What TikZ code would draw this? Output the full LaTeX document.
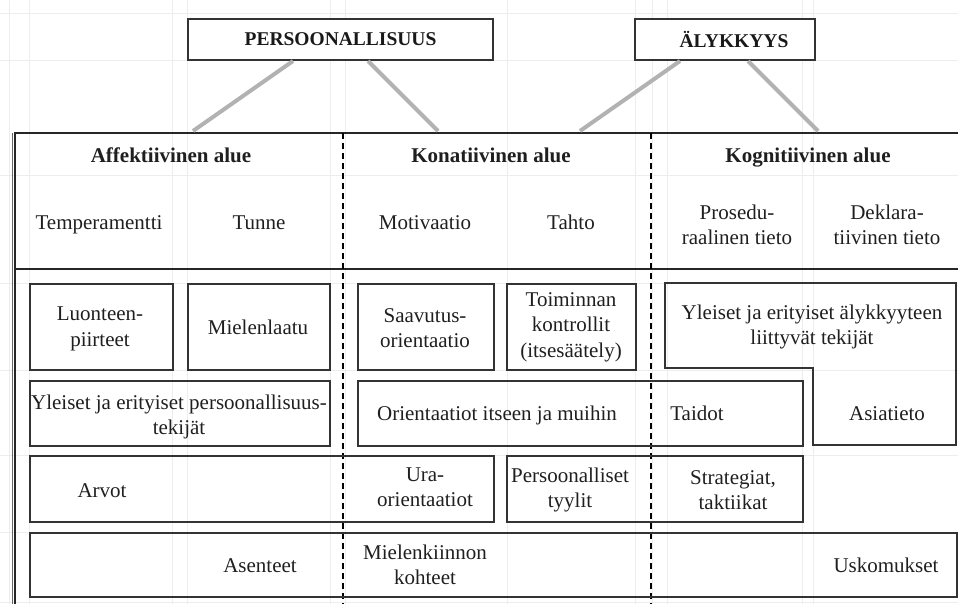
\documentclass[tikz,border=0pt]{standalone}
\usepackage{fontspec}
\setmainfont{Liberation Serif}
\begin{document}
\begin{tikzpicture}[x=1pt,y=-1pt,
  gridline/.style={draw=black!7, line width=0.8pt},
  boxline/.style={draw=black!80, line width=2pt},
  frameline/.style={draw=black!85, line width=1.6pt},
  divider/.style={draw=black, line width=1.5pt, dash pattern=on 6pt off 4pt},
  link/.style={draw=black!30, line width=4pt},
  topbox/.style={boxline, fill=white, inner sep=0pt, text=black!90,
    font=\fontsize{19.5}{23}\selectfont\bfseries},
  cell/.style={boxline, inner sep=0pt},
  lbl/.style={text=black!88, align=center, inner sep=0pt,
    font=\fontsize{21}{25.5}\selectfont},
  one/.style={lbl, text height=20pt, text depth=5pt},
  head/.style={one, font=\fontsize{21}{25.5}\selectfont\bfseries}]
\useasboundingbox (0,0) rectangle (958,604);

% faint page grid behind the diagram
\foreach \gx in {9,29,172,187,330,345,507,635,652,667,802,813}
  \draw[gridline] (\gx,0) -- (\gx,604);
\foreach \gy in {13,60,175,283,370,455,532,602}
  \draw[gridline] (0,\gy) -- (958,\gy);

% top-level concepts
\node[topbox, minimum width=305pt, minimum height=41pt, anchor=north west]
  (pers) at (187,18) {PERSOONALLISUUS};
\node[topbox, minimum width=180pt, minimum height=41pt, anchor=north west,
  text width=180pt, align=center] (aly) at (634,18) {\hspace*{18pt}ÄLYKKYYS};

% outer frame of the three domains
\draw[frameline] (958,133) -- (15,133) -- (15,604);
\draw[draw=black!60, line width=0.8pt] (12,133) -- (12,604);
\draw[frameline, line width=2pt] (15,269) -- (958,269);
\coordinate (f1) at (193,131);
\coordinate (f2) at (438,131);
\coordinate (f3) at (580,131);
\coordinate (f4) at (818,131);

% links from concepts to domains
\draw[link] ([xshift=106pt]pers.south west) -- (f1);
\draw[link] ([xshift=181pt]pers.south west) -- (f2);
\draw[link] ([xshift=46pt]aly.south west) -- (f3);
\draw[link] ([xshift=114pt]aly.south west) -- (f4);

% domain dividers
\draw[divider] (343,133) -- (343,604);
\draw[divider] (651,133) -- (651,604);

% domain headings
\node[head] (haff) at (171,155) {Affektiivinen alue};
\node[head] (hkon) at (491,155) {Konatiivinen alue};
\node[head] (hkog) at (808,155) {Kognitiivinen alue};

\node[one] (temp) at (99,222) {Temperamentti};
\node[one] (tunne) at (259,222) {Tunne};
\node[one] (moti) at (425,222) {Motivaatio};
\node[one] (tahto) at (571,222) {Tahto};
\node[lbl] (prose) at (737,225) {Prosedu-\\raalinen tieto};
\node[lbl] (dekla) at (887,225) {Deklara-\\tiivinen tieto};

% row 1
\node[cell, minimum width=143pt, minimum height=86pt, anchor=north west] (bluo) at (29,283) {};
\node[cell, minimum width=142pt, minimum height=86pt, anchor=north west] (bmie) at (187,283) {};
\node[cell, minimum width=136pt, minimum height=86pt, anchor=north west] (bsaa) at (357,283) {};
\node[cell, minimum width=129pt, minimum height=86pt, anchor=north west] (btoi) at (506,283) {};
\draw[boxline] (665,283) -- (956,283) -- (956,445) -- (813,445) -- (813,368)
  -- (665,368) -- cycle;

\node[lbl] (luo) at (100,329) {Luonteen-\\piirteet};
\node[one] (mie) at (258,327) {Mielenlaatu};
\node[lbl] (saa) at (425,328) {Saavutus-\\orientaatio};
\node[lbl] (toi) at (571,327) {Toiminnan\\kontrollit\\(itsesäätely)};
\node[lbl] (yal) at (812,327) {Yleiset ja erityiset älykkyyteen\\liittyvät tekijät};

% row 2
\node[cell, minimum width=300pt, minimum height=65pt, anchor=north west] (bype) at (29,380) {};
\node[cell, minimum width=445pt, minimum height=65pt, anchor=north west] (bori) at (357,380) {};

\node[lbl] (ype) at (179,417) {Yleiset ja erityiset persoonallisuus-\\tekijät};
\node[one] (ori) at (497,413) {Orientaatiot itseen ja muihin};
\node[one] (tai) at (697,413) {Taidot};
\node[one] (asi) at (887,413) {Asiatieto};

% row 3
\node[cell, minimum width=464pt, minimum height=66pt, anchor=north west] (barv) at (29,455) {};
\node[cell, minimum width=296pt, minimum height=66pt, anchor=north west] (bper) at (506,455) {};

\node[one] (arv) at (102,490) {Arvot};
\node[lbl] (ura) at (425,487) {Ura-\\orientaatiot};
\node[lbl] (pty) at (570,490) {Persoonalliset\\tyylit};
\node[lbl] (str) at (733,490) {Strategiat,\\taktiikat};

% row 4
\node[cell, minimum width=927pt, minimum height=64pt, anchor=north west] (bbot) at (29,532) {};

\node[one] (ase) at (260,565) {Asenteet};
\node[lbl] (mko) at (425,565) {Mielenkiinnon\\kohteet};
\node[one] (usk) at (886,565) {Uskomukset};
\end{tikzpicture}
\end{document}
